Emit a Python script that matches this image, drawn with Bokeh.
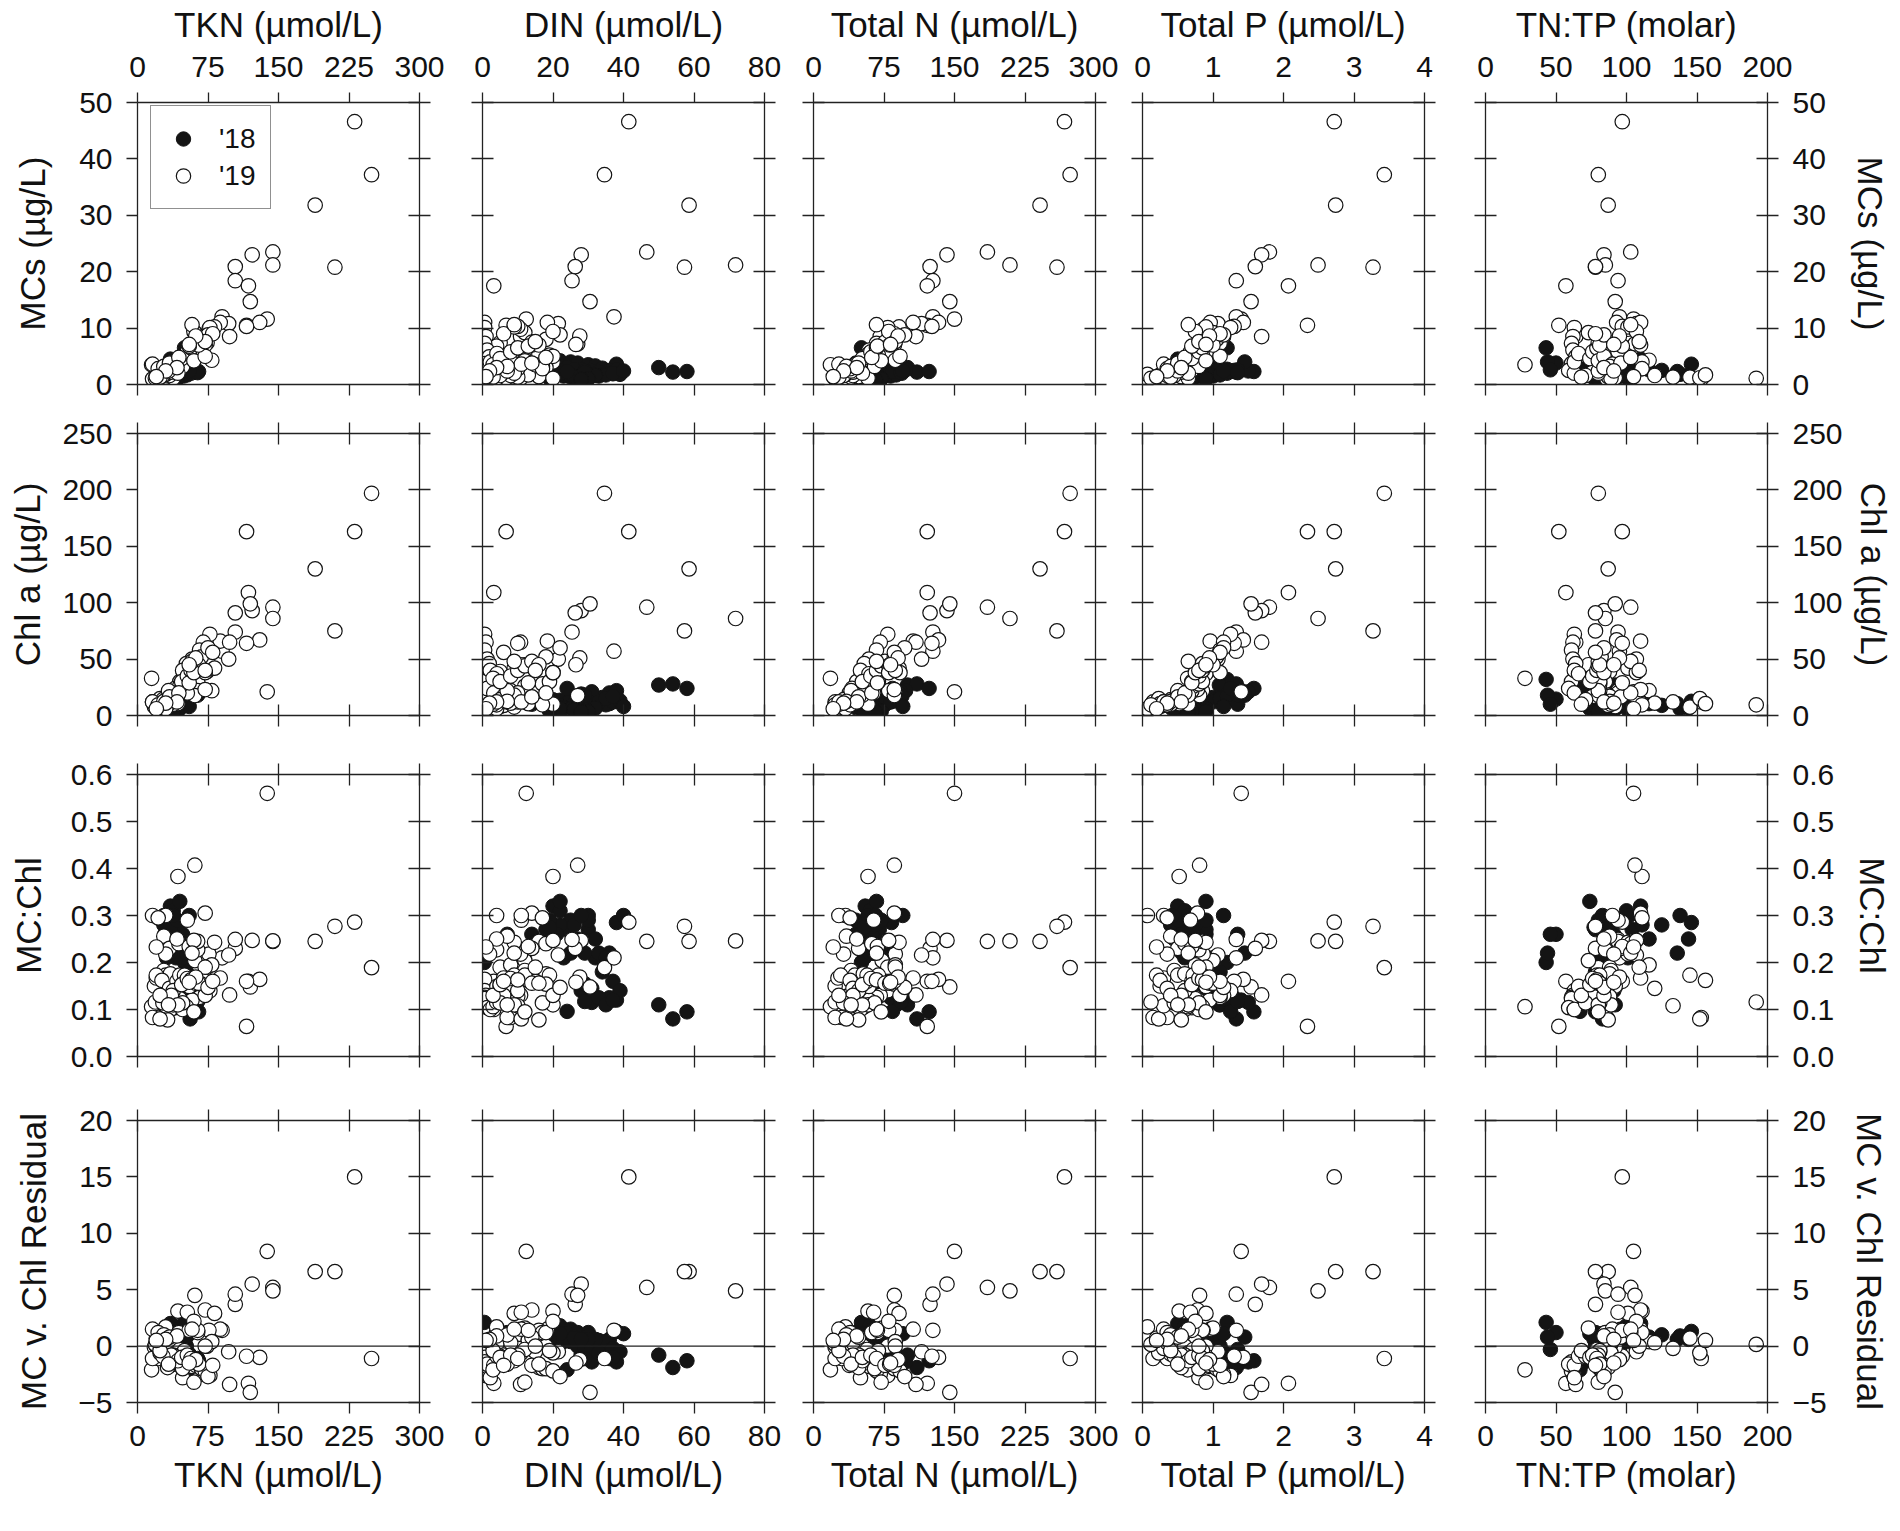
import math
from bokeh.plotting import figure
from bokeh.models import (Range1d, LinearAxis, FixedTicker, NumeralTickFormatter,
                          Span, Legend, LegendItem, ColumnDataSource, CustomLabelingPolicy)
from bokeh.layouts import gridplot
from bokeh.embed import file_html
from bokeh.resources import INLINE

nan = float("nan")

# ---------------- data: 2018 samples ----------------
tkn18 = [50,50,56,65,45,40,38,35,38,42, 45,40,36,33,48,52,55,58,60,62, 30,28,32,34,37,41,44,47,26,29,
         31,35,39,43,46,49,53,57,28,33, 52,48,45,40,35,60,64,55,42,38]
din18 = [0.5,50,54,58,38,36,7,20,22,25, 27,30,18,24,32,34,28,36,38,31, 20,22,26,29,33,35,37,39,19,21,
         23,25,27,29,31,33,35,37,30,32, 12,14,22,26,19,24,29,40,30,28]
tn18 = [51,100,110,123,83,76,45,55,60,67, 72,70,54,57,80,86,83,94,98,93, 50,50,58,63,70,76,81,86,45,50,
        54,60,66,72,77,82,88,94,58,65, 64,62,67,66,54,84,93,95,72,66]
tp18 = [1.20,1.09,1.33,1.58,0.57,0.56,0.90,0.50,0.60,0.70, 0.80,0.90,0.65,0.55,1.00,1.10,1.20,1.30,1.40,1.50,
        0.45,0.40,0.50,0.60,0.70,0.75,0.85,0.95,0.50,0.55, 0.60,0.65,0.70,0.80,0.90,1.00,1.10,1.20,0.42,0.45,
        1.45,1.35,0.90,0.75,0.70,1.25,1.35,1.15,0.90,0.65]
tntp18 = [43,92,83,78,146,136,50,110,100,96, 90,78,83,104,80,78,69,72,70,62, 111,125,116,105,100,101,95,91,90,91,
          90,92,94,90,86,82,80,78,138,144, 44,46,74,88,77,67,69,83,80,102]
mc18 = [6.5,3.0,2.2,2.3,3.6,2.3,3.8,4.5,4.2,4.0, 3.8,3.5,3.2,3.0,3.3,2.9,2.7,2.5,2.6,2.4,
        2.8,2.5,2.6,2.4,2.2,2.0,1.9,1.8,2.0,1.7, 1.5,1.3,1.2,1.4,1.6,1.5,1.7,2.0,1.8,1.6,
        4.0,2.6,2.0,1.4,1.1,2.3,2.1,2.4,1.0,0.9]
chl18 = [32,27,28,24,12.6,10.5,14.5,14,13.5,14, 15,13,12,11,16,16,19,20,22,21,
         10,9,10.5,11,10,9.5,12,13,7,6.5, 7,6,7.5,9,11,12,15,17,6,6.5,
         18,10,6,5,4,24,18,8,3.5,3]
ratio18 = [0.20,0.11,0.08,0.095,0.285,0.22,0.26,0.32,0.31,0.29, 0.25,0.27,0.27,0.27,0.21,0.18,0.14,0.125,0.12,0.115,
           0.28,0.28,0.25,0.22,0.22,0.21,0.16,0.14,0.29,0.26, 0.21,0.22,0.16,0.155,0.145,0.125,0.11,0.12,0.30,0.25,
           0.22,0.26,0.33,0.28,0.275,0.096,0.117,0.30,0.29,0.30]
resid18 = [2.1,-0.8,-1.9,-1.3,1.3,0.6,1.2,2.0,1.8,1.5, 1.2,1.2,1.1,1.1,0.5,0.0,-0.7,-1.1,-1.4,-1.4,
           1.1,1.0,0.8,0.5,0.5,0.4,-0.2,-0.5,0.9,0.7, 0.4,0.4,0.0,-0.1,-0.3,-0.6,-1.0,-1.0,0.9,0.6,
           0.8,-0.3,1.1,0.7,0.6,-2.1,-1.1,1.1,0.6,0.6]

# ---------------- data: 2019 samples ----------------
tkn19 = [231,249,189,144,122,144,210,104,104,118, 120,138,90,116,130,97,88,98,61,76, 74,64,64,79,43,61,116,72,82,53,
         77,70,66,58,52,45,40,35,48,55, 15,18,20,22,25,28,30,32,35,38, 16,20,24,26,30,34,30,19,
         42,45,48,50,38,36,43,27,24,33, 47,53,57,60,62,68,72,65,75,80, 16,22,28,34,44,55,60,58,72,42,30,20,62,55]
din19 = [41.5,34.6,58.6,46.6,28.0,71.8,57.3,26.3,25.4,3.2, 30.5,12.4,37.3,6.7,0.6,21.5,18.4,10.8,12,10.8,
         5,4,16,8,20,27,10,14,9,11,
         0.6,1.0,0.6,1.3,1.9,0.6,1.3,3.2,2.2,4.1, 3,5,6,8,10,12,14,16,18,20, 7,9,11,13,10,8,4,4,
         15,12,17,19,10,6,9,5,3,7, 5,8,10,12,14,18,20,16,22,6, 11,17,7,14,18,13,20,9,15,4,2,1,27.6,26.5]
tn19 = [267,273,241,185,142,209,259,124,127,121, 145,150,127,121,133,115,106,109,73,87, 79,68,80,87,58,86,126,86,91,64,
        79,71,67,59,54,46,41,38,50,59, 18,23,26,30,35,40,44,48,53,58, 23,29,35,39,40,42,34,23,
        57,57,65,69,48,42,52,32,27,40, 52,61,67,72,76,86,92,81,97,86, 27,39,35,48,62,68,80,67,87,46,32,21,90,82]
tp19 = [2.72,3.43,2.74,1.80,1.69,2.49,3.27,1.60,1.33,2.07, 1.54,1.40,1.33,2.34,1.43,1.07,0.96,1.69,1.00,0.86,
        0.90,0.80,0.85,0.75,0.52,0.81,1.30,0.78,0.90,0.68,
        1.25,1.15,1.10,0.95,0.85,0.75,0.70,0.60,0.80,0.90, 0.64,0.25,0.30,0.35,0.40,0.45,0.50,0.55,0.60,0.65,
        0.15,0.20,0.23,0.25,0.30,0.35,0.07,0.12,
        0.70,0.72,0.80,0.85,0.60,0.55,0.65,0.45,0.40,0.50, 0.70,0.80,0.85,0.90,0.95,1.05,1.10,1.00,1.15,1.10,
        0.30,0.35,0.40,0.50,0.60,0.70,0.75,0.65,0.80,0.55,0.35,0.20,0.95,0.90]
tntp19 = [97,80,87,103,84,85,78,78,94,57, 92,105,95,52,93,107,110,64,73,101, 88,85,94,116,111,106,97,110,101,94,
          63,62,61,62,64,61,59,63,63,66, 28,92,87,86,88,89,88,87,88,89, 153,145,152,156,133,120,nan,192,
          81,79,81,81,80,76,80,71,68,80, 74,76,79,80,80,82,84,81,84,78, 90,111,88,96,103,97,107,103,109,84,91,105,95,91]
mc19 = [46.6,37.2,31.8,23.5,23.0,21.2,20.8,20.9,18.4,17.5, 14.7,11.6,12.0,10.5,11.0,10.8,11.0,8.5,9.2,9.8,
        7.4,6.8,5.4,4.3,4.0,7.2,10.3,7.0,10.2,5.8,
        10.1,8.5,7.3,6.1,4.9,3.7,2.5,2.0,4.0,5.5, 3.5,1.2,1.5,1.0,1.8,2.2,2.6,1.4,3.0,1.1,
        1.0,1.3,1.2,1.7,1.3,1.6,1.8,1.1,
        3.5,4.5,3.2,5.2,2.8,2.2,2.0,1.6,1.3,2.4, 4.6,5.8,6.5,4.2,7.5,8.0,5.0,7.0,8.8,9.0,
        3.6,2.8,3.2,3.8,4.8,6.8,9.4,10.6,7.6,3.0,2.4,1.4,8.6,7.1]
chl19 = [163,197,130,96,93,86,75,91,74,109, 99,21,57,163,67,50,66,65,45,45, 39,30,22,22,10.5,17.7,64,23,42,20,
         72,65,58,50,46,30,24,20,40,37, 33,8,9,12,14,12,15,18,17,10, 12,7.5,15,10.5,12,11,6,9.5,
         22,26,28,30,20,17,18,14,10,22, 30,35,40,44,48,52,38,45,60,56, 12,9.5,12.5,16.5,20,29,38,48,40,12,11,6,51,45]
ratio19 = [0.286,0.189,0.245,0.245,0.247,0.246,0.277,0.23,0.249,0.16, 0.148,0.56,0.21,0.064,0.164,0.216,0.167,0.131,0.204,0.218,
           0.19,0.227,0.245,0.195,0.383,0.407,0.16,0.305,0.243,0.29,
           0.14,0.13,0.126,0.12,0.106,0.123,0.104,0.10,0.10,0.149, 0.106,0.15,0.167,0.083,0.128,0.183,0.173,0.078,0.176,0.11,
           0.083,0.173,0.08,0.162,0.108,0.145,0.30,0.116,
           0.16,0.173,0.114,0.173,0.14,0.13,0.11,0.114,0.13,0.11, 0.153,0.166,0.163,0.095,0.156,0.154,0.13,0.156,0.147,0.16,
           0.30,0.295,0.256,0.23,0.24,0.234,0.247,0.22,0.19,0.25,0.218,0.233,0.169,0.158]
resid19 = [15.0,-1.1,6.6,5.2,5.5,4.9,6.6,3.7,4.6,-3.3, -4.1,8.4,1.4,nan,-1.0,-0.5,1.5,-3.4,1.6,1.4,
           0.0,1.2,1.4,0.4,3.1,4.5,-0.9,3.2,2.9,3.0,
           -2.6,-2.5,-2.2,-1.8,-1.5,-1.4,-1.6,-1.7,-2.8,-0.9, -2.1,-0.1,0.0,-1.1,-0.7,0.2,-0.1,-1.9,0.0,-0.6,
           -1.1,0.7,-0.6,0.5,-0.2,0.3,1.7,0.15,
           -0.5,-0.3,-2.0,-0.4,-0.8,-0.8,-1.3,-0.9,-0.4,-1.6, -1.0,-0.8,-1.1,-3.2,-1.7,-2.0,-2.2,-1.6,-2.7,-1.7,
           1.5,1.2,1.0,0.8,1.2,1.4,2.2,1.5,0.0,0.9,0.6,0.5,-1.2,-1.5]

for name, arrs in (("18", [tkn18, din18, tn18, tp18, tntp18, mc18, chl18, ratio18, resid18]),
                   ("19", [tkn19, din19, tn19, tp19, tntp19, mc19, chl19, ratio19, resid19])):
    lens = [len(a) for a in arrs]
    if len(set(lens)) != 1:
        raise SystemExit("length mismatch %s %s" % (name, lens))

# ---------------- panel definitions ----------------
x_titles = ["TKN (µmol/L)", "DIN (µmol/L)", "Total N (µmol/L)", "Total P (µmol/L)", "TN:TP (molar)"]
x_data18 = [tkn18, din18, tn18, tp18, tntp18]
x_data19 = [tkn19, din19, tn19, tp19, tntp19]
x_ranges = [(0, 300), (0, 80), (0, 300), (0, 4), (0, 200)]
x_ticks = [[0, 75, 150, 225, 300], [0, 20, 40, 60, 80], [0, 75, 150, 225, 300], [0, 1, 2, 3, 4], [0, 50, 100, 150, 200]]

y_titles = ["MCs (µg/L)", "Chl a (µg/L)", "MC:Chl", "MC v. Chl Residual"]
y_data18 = [mc18, chl18, ratio18, resid18]
y_data19 = [mc19, chl19, ratio19, resid19]
y_ranges = [(0, 50), (0, 250), (0, 0.6), (-5, 20)]
y_ticks = [[0, 10, 20, 30, 40, 50], [0, 50, 100, 150, 200, 250],
           [0.0, 0.1, 0.2, 0.3, 0.4, 0.5, 0.6], [-5, 0, 5, 10, 15, 20]]

FONT = "Liberation Sans"
AX = "#222222"
TXT = "#111111"
LW = 1.3
FR = 282
col_L = [137, 33, 25, 24, 31]
col_R = [30, 24, 23, 30, 133]
row_T = [102, 25, 30, 32]
row_B = [24, 29, 32, 125]
TICK_FS = "30px"
XT_FS = "35px"
YT_FS = "35px"
left_title_standoff = [24, 12, 20, 22]
right_title_standoff = [22, 8, 16, 20]


def make_axis(ticks, tin, tout, show_labels, fmt=None):
    ax = LinearAxis(ticker=FixedTicker(ticks=ticks))
    ax.axis_line_color = AX
    ax.axis_line_width = LW
    ax.major_tick_line_color = AX
    ax.major_tick_line_width = LW
    ax.major_tick_in = tin
    ax.major_tick_out = tout
    ax.minor_tick_line_color = None
    ax.major_label_text_font = FONT
    ax.major_label_text_color = TXT
    ax.axis_label_text_font = FONT
    ax.axis_label_text_font_style = "normal"
    ax.axis_label_text_color = TXT
    if fmt is not None:
        ax.formatter = fmt
    if show_labels:
        ax.major_label_text_font_size = TICK_FS
    else:
        ax.major_label_text_font_size = "0px"
        ax.major_label_standoff = 0
        ax.major_label_policy = CustomLabelingPolicy(code="return []")
    return ax


rows = []
for r in range(4):
    row = []
    for c in range(5):
        p = figure(width=col_L[c] + FR + col_R[c], height=row_T[r] + FR + row_B[r],
                   x_range=Range1d(*x_ranges[c]), y_range=Range1d(*y_ranges[r]),
                   x_axis_type=None, y_axis_type=None,
                   toolbar_location=None, output_backend="svg",
                   min_border_left=col_L[c], min_border_right=col_R[c],
                   min_border_top=row_T[r], min_border_bottom=row_B[r],
                   outline_line_color=None, background_fill_color="white",
                   border_fill_color="white")

        yfmt = NumeralTickFormatter(format="0.0") if r == 2 else None

        # top axis
        if r == 0:
            top = make_axis(x_ticks[c], 0, 10, True)
            top.major_label_standoff = 16
            top.axis_label = x_titles[c]
            top.axis_label_text_font_size = XT_FS
            top.axis_label_standoff = 10
        else:
            top = make_axis(x_ticks[c], 11, 11, False)
        p.add_layout(top, "above")

        # bottom axis
        if r == 3:
            bot = make_axis(x_ticks[c], 0, 11, True)
            bot.major_label_standoff = 12
            bot.axis_label = x_titles[c]
            bot.axis_label_text_font_size = XT_FS
            bot.axis_label_standoff = 6
        elif r == 0:
            bot = make_axis(x_ticks[c], 0, 11, False)
        else:
            bot = make_axis(x_ticks[c], 11, 11, False)
        p.add_layout(bot, "below")

        # left axis
        if c == 0:
            left = make_axis(y_ticks[r], 0, 11, True, yfmt)
            left.major_label_standoff = 14
            left.axis_label = y_titles[r]
            left.axis_label_text_font_size = YT_FS
            left.axis_label_standoff = left_title_standoff[r]
        else:
            left = make_axis(y_ticks[r], 11, 11, False, yfmt)
        p.add_layout(left, "left")

        # right axis
        if c == 4:
            right = make_axis(y_ticks[r], 11, 11, True, yfmt)
            right.major_label_standoff = 14
            right.axis_label = y_titles[r]
            right.axis_label_text_font_size = YT_FS
            right.axis_label_standoff = right_title_standoff[r]
        else:
            right = make_axis(y_ticks[r], 11, 11, False, yfmt)
        p.add_layout(right, "right")

        if r == 3:
            p.add_layout(Span(location=0, dimension="width", line_color=AX, line_width=LW))

        s18 = ColumnDataSource(dict(x=x_data18[c], y=y_data18[r]))
        s19 = ColumnDataSource(dict(x=x_data19[c], y=y_data19[r]))
        r18 = p.scatter(x="x", y="y", source=s18, marker="circle", size=14.5,
                        fill_color="#141414", line_color="#141414", line_width=1)
        r19 = p.scatter(x="x", y="y", source=s19, marker="circle", size=14.5,
                        fill_color="white", line_color="#141414", line_width=1.2)

        if r == 0 and c == 0:
            leg = Legend(items=[LegendItem(label="'18", renderers=[r18]),
                                LegendItem(label="'19", renderers=[r19])],
                         location=(13, 175), orientation="vertical",
                         label_text_font=FONT, label_text_font_size="28px",
                         label_text_color=TXT,
                         glyph_width=36, glyph_height=37, label_standoff=18,
                         padding=14, spacing=0, margin=0,
                         border_line_color=AX, border_line_width=LW,
                         background_fill_color="white", background_fill_alpha=1.0)
            p.add_layout(leg)
        row.append(p)
    rows.append(row)

grid = gridplot(rows, toolbar_location=None)

open("out.html", "w").write(file_html(grid, INLINE, title="MCs vs nutrients"))
